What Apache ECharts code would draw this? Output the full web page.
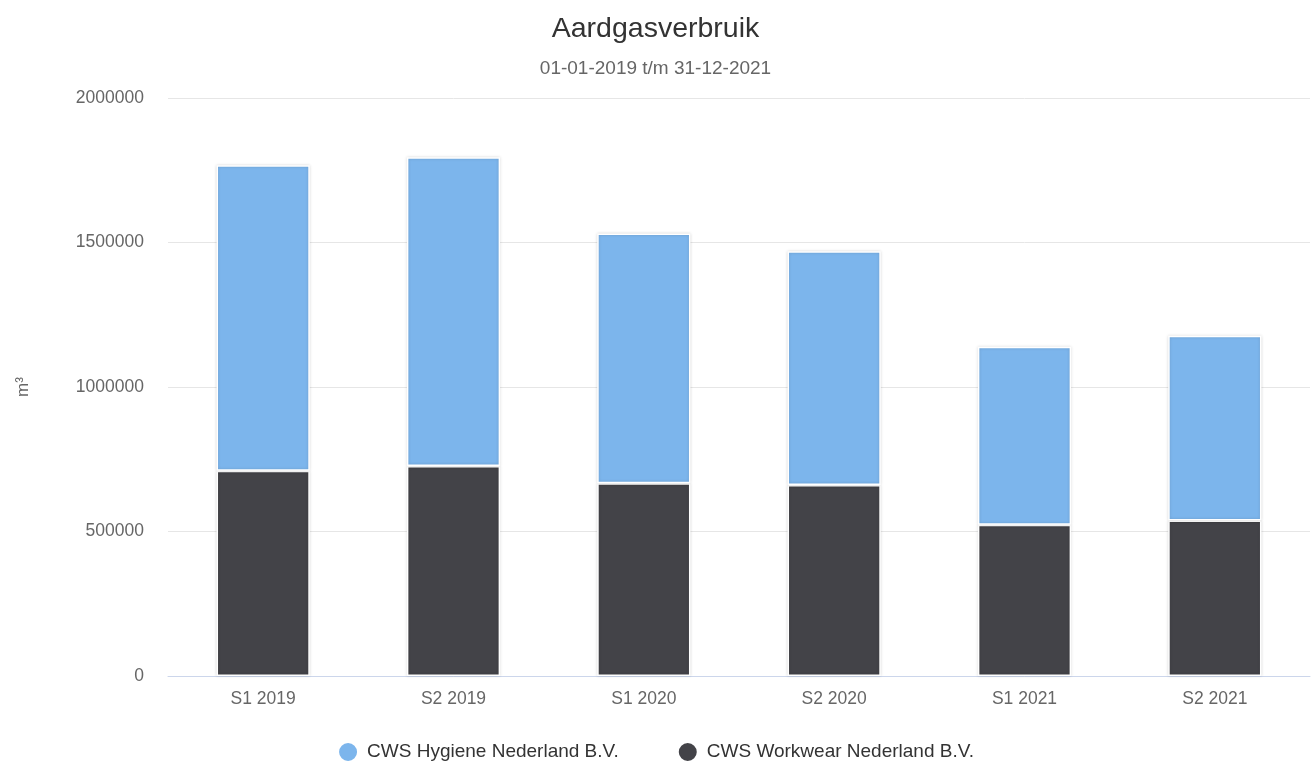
<!DOCTYPE html>
<html><head><meta charset="utf-8">
<script src="https://cdn.jsdelivr.net/npm/echarts@6/dist/echarts.min.js"></script>
<style>html,body{margin:0;padding:0;background:#fff}#c{width:1311px;height:764px}</style>
</head><body><div id="c"></div>
<script>
const categories = ['S1 2019','S2 2019','S1 2020','S2 2020','S1 2021','S2 2021'];
const hygiene = [1057000, 1068000, 864000, 809000, 616000, 639000];
const workwear = [710000, 727000, 667000, 661000, 523000, 538000];
const yTicks = [0, 500000, 1000000, 1500000, 2000000];

const chart = echarts.init(document.getElementById('c'), null, {renderer:'canvas'});
const font = 'Helvetica, Arial, "Liberation Sans", sans-serif';
chart.setOption({
  animation:false,
  title:{text:'Aardgasverbruik', subtext:'01-01-2019 t/m 31-12-2021', left:'center', top:10,
    itemGap:15,
    textStyle:{fontFamily:font, fontSize:28.5, fontWeight:'normal', color:'#333'},
    subtextStyle:{fontFamily:font, fontSize:19, color:'#666'}},
  legend:{top:736, left:'center', itemGap:58, icon:'circle', itemWidth:20, itemHeight:20,
    textStyle:{fontFamily:font, fontSize:19, color:'#333', padding:[0,0,0,4]},
    data:['CWS Hygiene Nederland B.V.','CWS Workwear Nederland B.V.']},
  grid:{left:168, right:1, top:98, bottom:88, containLabel:false},
  xAxis:{type:'category', data:categories,
    axisLine:{lineStyle:{color:'#ccd6eb', width:1}},
    axisTick:{show:false},
    axisLabel:{fontFamily:font, fontSize:17.5, color:'#666', margin:14}},
  yAxis:{type:'value', min:yTicks[0], max:yTicks[yTicks.length-1], interval:500000,
    name:'m³', nameLocation:'middle', nameGap:136, nameRotate:90,
    nameTextStyle:{fontFamily:font, fontSize:17, color:'#666'},
    axisLine:{show:false}, axisTick:{show:false},
    axisLabel:{fontFamily:font, fontSize:17.5, color:'#666', margin:24, formatter:v=>String(v)},
    splitLine:{lineStyle:{color:'#e6e6e6'}}},
  series:[
    {name:'CWS Workwear Nederland B.V.', type:'bar', stack:'t', data:workwear, barWidth:'49%',
      itemStyle:{color:'#434348', borderColor:'#fff', borderWidth:1.5,
        shadowColor:'rgba(0,0,0,0.18)', shadowBlur:3}},
    {name:'CWS Hygiene Nederland B.V.', type:'bar', stack:'t', data:hygiene, barWidth:'49%',
      itemStyle:{color:'#7cb5ec', borderColor:'#fff', borderWidth:1.5,
        shadowColor:'rgba(0,0,0,0.18)', shadowBlur:3}}
  ]
});
</script></body></html>
